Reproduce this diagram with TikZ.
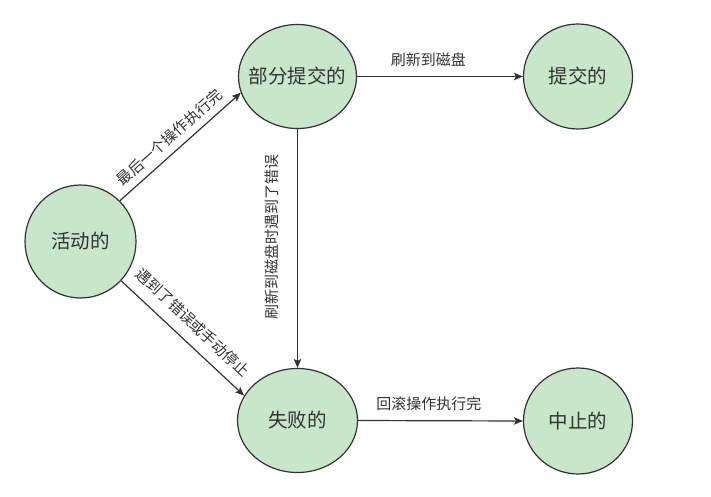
\documentclass[tikz,border=0pt]{standalone}
\usepackage{fontspec}
\setmainfont{Noto Sans CJK SC}
\usetikzlibrary{shapes.geometric,arrows.meta}
\definecolor{nodefill}{HTML}{C8E6C9}
\definecolor{linecol}{HTML}{333333}
\definecolor{txtcol}{HTML}{333333}
\tikzset{
  state/.style={ellipse, draw=linecol, line width=1.2pt, fill=nodefill, inner sep=0pt,
    text=txtcol, font=\fontsize{19.5pt}{22pt}\selectfont},
  conn/.style={draw=linecol, line width=1.2pt, -{Stealth[length=9pt,width=7.5pt,inset=2pt]}},
  elabel/.style={inner sep=0pt, text=txtcol, font=\fontsize{15pt}{17pt}\selectfont}
}
\begin{document}
\begin{tikzpicture}[x=1pt,y=-1pt]
\useasboundingbox (0,0) rectangle (711,497);
\fill[white] (0,0) rectangle (711,497);
\node[state, minimum width=111pt, minimum height=113pt] (act) at (80.5,241.5) {\makebox[0pt]{活动的}};
\node[state, minimum width=118pt, minimum height=104pt] (part) at (297.5,76.5) {\makebox[0pt]{部分提交的}};
\node[state, minimum width=109pt, minimum height=105pt] (comm) at (578,76.5) {\makebox[0pt]{提交的}};
\node[state, minimum width=120pt, minimum height=104pt] (fail) at (297.5,420.5) {\makebox[0pt]{失败的}};
\node[state, minimum width=109pt, minimum height=106pt] (abrt) at (578,421) {\makebox[0pt]{中止的}};

\draw[conn] (act.46) -- node[elabel, pos=0.49, sloped, above=7pt] (l1) {最后一个操作执行完} (part.196);
\draw[conn] (act.-44) -- node[elabel, pos=0.48, sloped, above=11pt] (l2) {遇到了错误或手动停止} (fail.155);
\draw[conn] (part.south) -- node[elabel, pos=0.45, rotate=90, above=18pt] (l3) {刷新到磁盘时遇到了错误} (fail.north);
\draw[conn] (part.east) -- node[elabel, pos=0.43, above=9pt] (l4) {刷新到磁盘} (comm.west);
\draw[conn] (fail.east) -- node[elabel, pos=0.43, above=9pt] (l5) {回滚操作执行完} (abrt.west);
\end{tikzpicture}
\end{document}
